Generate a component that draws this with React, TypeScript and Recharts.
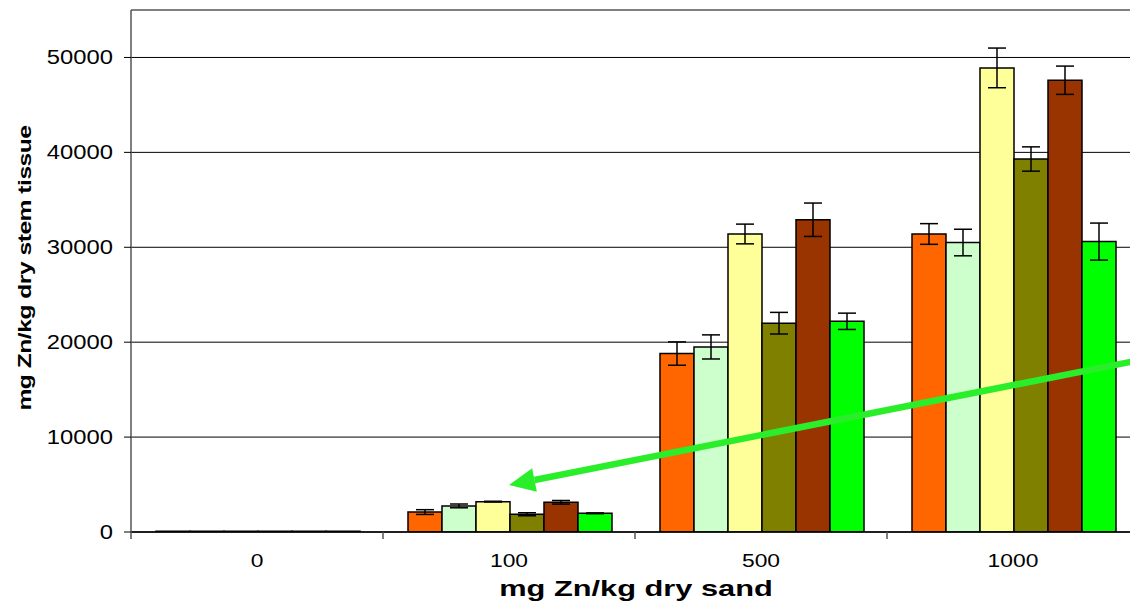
import React from 'react';
import { BarChart, Bar, XAxis, YAxis, CartesianGrid, ErrorBar } from 'recharts';

const categories = ['0', '100', '500', '1000'];
const yTicks = [0, 10000, 20000, 30000, 40000, 50000];

const seriesKeys = ['s1', 's2', 's3', 's4', 's5', 's6'];
const seriesColors = ['#FF6600', '#CCFFCC', '#FFFF99', '#808000', '#993300', '#00FF00'];

const s1 = [80, 2100, 18800, 31400];
const s2 = [80, 2750, 19500, 30500];
const s3 = [80, 3200, 31400, 48900];
const s4 = [80, 1870, 22000, 39300];
const s5 = [80, 3130, 32900, 47600];
const s6 = [80, 1970, 22200, 30600];

const e1 = [0, 250, 1230, 1090];
const e2 = [0, 200, 1270, 1400];
const e3 = [0, 40, 1040, 2090];
const e4 = [0, 160, 1140, 1280];
const e5 = [0, 190, 1760, 1490];
const e6 = [0, 40, 860, 1950];

const values = [s1, s2, s3, s4, s5, s6];
const errors = [e1, e2, e3, e4, e5, e6];

const data = categories.map((cat, i) => {
  const row: any = { cat };
  seriesKeys.forEach((k, j) => {
    row[k] = values[j][i];
    row[k + 'Err'] = errors[j][i];
  });
  return row;
});

const FONT = '"Liberation Sans", Arial, sans-serif';
const CHART_W = 1139;
const CHART_H = 603;
const Y_AXIS_W = 131;
const BAND = (CHART_W - Y_AXIS_W) / categories.length;

const YTick = (props: any) => {
  const { x, y, payload } = props;
  return (
    <g transform={`translate(${x},${y})`}>
      <text
        x={0}
        y={0}
        dy="0.355em"
        textAnchor="end"
        transform="scale(1.22,1)"
        fontSize={19.5}
        fontFamily={FONT}
        fill="#000"
      >
        {payload.value}
      </text>
    </g>
  );
};

const XTick = (props: any) => {
  const { x, y, payload } = props;
  return (
    <g>
      <line x1={x - BAND / 2} x2={x - BAND / 2} y1={y} y2={y + 7} stroke="#555" strokeWidth={1.5} />
      <g transform={`translate(${x},${y + 34.5})`}>
        <text x={0} y={0} textAnchor="middle" transform="scale(1.27,1)" fontSize={18} fontFamily={FONT} fill="#000">
          {payload.value}
        </text>
      </g>
    </g>
  );
};

// arrow geometry (annotation only)
const tip = { x: 509, y: 485 };
const tail = { x: 1140, y: 360 };
const dx = tail.x - tip.x;
const dy = tail.y - tip.y;
const len = Math.sqrt(dx * dx + dy * dy);
const ux = dx / len;
const uy = dy / len;
const headLen = 26;
const headHalf = 12;
const base = { x: tip.x + ux * headLen, y: tip.y + uy * headLen };
const c1 = { x: base.x - uy * headHalf, y: base.y + ux * headHalf };
const c2 = { x: base.x + uy * headHalf, y: base.y - ux * headHalf };

export default function App() {
  return (
    <div
      style={{
        position: 'absolute',
        left: 0,
        top: 0,
        width: 1130,
        height: 603,
        overflow: 'hidden',
        background: '#fff',
      }}
    >
      <BarChart
        width={CHART_W}
        height={CHART_H}
        data={data}
        margin={{ top: 10, right: 0, left: 0, bottom: 0 }}
        barCategoryGap={25}
        barGap={0}
      >
        <CartesianGrid vertical={false} stroke="#000" strokeWidth={1} />
        <XAxis
          dataKey="cat"
          height={71}
          tickSize={0}
          tickMargin={0}
          tickLine={false}
          axisLine={{ stroke: '#000', strokeWidth: 1.5 }}
          tick={<XTick />}
          interval={0}
        />
        <YAxis
          width={Y_AXIS_W}
          domain={[0, 55000]}
          ticks={yTicks}
          allowDataOverflow
          tickSize={7}
          tickMargin={11}
          tickLine={{ stroke: '#000' }}
          axisLine={{ stroke: '#555', strokeWidth: 1.5 }}
          tick={<YTick />}
        />
        {seriesKeys.map((k, j) => (
          <Bar key={k} dataKey={k} fill={seriesColors[j]} stroke="#000" strokeWidth={1.5} isAnimationActive={false}>
            <ErrorBar dataKey={k + 'Err'} width={9} stroke="#000" strokeWidth={1.5} direction="y" />
          </Bar>
        ))}
      </BarChart>
      <svg
        width={1130}
        height={603}
        style={{ position: 'absolute', left: 0, top: 0, pointerEvents: 'none' }}
      >
        <g transform="translate(30.5,268) rotate(-90)">
          <text
            x={0}
            y={0}
            textAnchor="middle"
            transform="scale(1.3,1)"
            fontSize={19}
            fontWeight="bold"
            letterSpacing={-0.4}
            fontFamily={FONT}
            fill="#000"
          >
            mg Zn/kg dry stem tissue
          </text>
        </g>
        <g transform="translate(636,596)">
          <text
            x={0}
            y={0}
            textAnchor="middle"
            transform="scale(1.4,1)"
            fontSize={22}
            fontWeight="bold"
            fontFamily={FONT}
            fill="#000"
          >
            mg Zn/kg dry sand
          </text>
        </g>
        <line x1={tail.x} y1={tail.y} x2={base.x} y2={base.y} stroke="#2BEE2B" strokeWidth={6.5} />
        <polygon points={`${tip.x},${tip.y} ${c1.x},${c1.y} ${c2.x},${c2.y}`} fill="#2BEE2B" />
      </svg>
    </div>
  );
}
